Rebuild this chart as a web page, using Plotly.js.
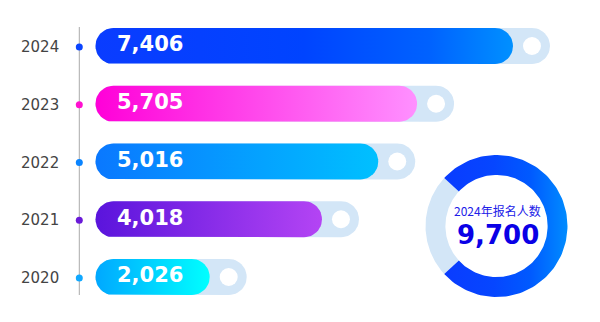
<!DOCTYPE html>
<html>
<head>
<meta charset="utf-8">
<script src="https://cdn.plot.ly/plotly-3.0.1.min.js"></script>
<style>html,body{margin:0;padding:0;background:#fff;}#chart{width:600px;height:322px;}</style>
</head>
<body>
<div id="chart"></div>
<script>
// ---- data ----
const years = ['2024', '2023', '2022', '2021', '2020'];
const values = [7406, 5705, 5016, 4018, 2026];
const gradStart = ['#0a3cff', '#ff00d8', '#0a78ff', '#5a14dc', '#00a8ff'];
const gradEnd = ['#0090ff', '#ff90ff', '#00c0ff', '#b444f4', '#00ffff'];
const dotColors = ['#0a44ff', '#ff10d0', '#0a84ff', '#6a1ad8', '#10a8ff'];
const totalLabel = '2024年报名人数';
const totalValue = 9700;
const donutPart = values[0];

// ---- layout constants (pixels) ----
const W = 600, H = 322;
const X0 = 95.5;          // pixel where value 0 sits
const K = 0.05637;        // pixels per unit
const ROW0 = 46, ROWSTEP = 57.75;
const BAR_H = 36;
const TRACK_EXTRA = 37;   // px beyond colored bar
const KNOB = 18;          // white circle diameter
const trackColor = '#d3e6f7';

const rx = (BAR_H / 2) / K;
const ry = (BAR_H / 2) / ROWSTEP;
const NS = 24;

function stadium(x0, x1, yc) {
  const xs = [], ys = [];
  for (let i = 0; i <= NS; i++) {
    const a = -Math.PI / 2 + Math.PI * i / NS;
    xs.push(x1 - rx + rx * Math.cos(a)); ys.push(yc + ry * Math.sin(a));
  }
  for (let i = 0; i <= NS; i++) {
    const a = Math.PI / 2 + Math.PI * i / NS;
    xs.push(x0 + rx + rx * Math.cos(a)); ys.push(yc + ry * Math.sin(a));
  }
  xs.push(xs[0]); ys.push(ys[0]);
  return {xs, ys};
}

function barScale(i) {
  if (i === 0) {
    return [[0, gradStart[0]], [0.5, '#0044ff'], [0.8, '#0062ff'], [1, gradEnd[0]]];
  }
  return [[0, gradStart[i]], [1, gradEnd[i]]];
}

const traces = [];
const extra = TRACK_EXTRA / K;
values.forEach((v, i) => {
  const t = stadium(0, v + extra, i);
  traces.push({type: 'scatter', mode: 'lines', x: t.xs, y: t.ys, fill: 'toself',
    fillcolor: trackColor, line: {width: 0, color: trackColor}, hoverinfo: 'skip'});
});
values.forEach((v, i) => {
  const s = stadium(0, v, i);
  traces.push({type: 'scatter', mode: 'lines', x: s.xs, y: s.ys, fill: 'toself',
    fillcolor: gradStart[i], line: {width: 0, color: gradStart[i]},
    fillgradient: {type: 'horizontal', colorscale: barScale(i)},
    hoverinfo: 'skip'});
});
// knobs
traces.push({type: 'scatter', mode: 'markers',
  x: values.map(v => v + extra - rx), y: values.map((v, i) => i),
  marker: {size: KNOB, color: '#ffffff', line: {width: 0}}, hoverinfo: 'skip'});
// value labels
traces.push({type: 'scatter', mode: 'text',
  x: values.map(() => 21.5 / K), y: values.map((v, i) => i),
  text: values.map(v => v.toLocaleString('en-US')), textposition: 'middle right',
  textfont: {family: 'DejaVu Sans', size: 21, color: '#ffffff', weight: 700},
  hoverinfo: 'skip'});
// timeline dots
const lineX = (79.3 - X0) / K;
const dy = 1 / ROWSTEP;
traces.push({type: 'scatter', mode: 'markers',
  x: years.map(() => lineX), y: years.map((y, i) => i + dy),
  marker: {size: 7, color: dotColors, line: {width: 0}}, hoverinfo: 'skip'});

// ---- donut ----
const R_IN = 0.72;
const span = (1 - donutPart / totalValue) * 360;
function sector(a0, a1) {
  const xs = [], ys = [], n = 120;
  for (let i = 0; i <= n; i++) {
    const a = (a0 + (a1 - a0) * i / n) * Math.PI / 180;
    xs.push(Math.cos(a)); ys.push(Math.sin(a));
  }
  for (let i = n; i >= 0; i--) {
    const a = (a0 + (a1 - a0) * i / n) * Math.PI / 180;
    xs.push(R_IN * Math.cos(a)); ys.push(R_IN * Math.sin(a));
  }
  xs.push(xs[0]); ys.push(ys[0]);
  return {xs, ys};
}
const rest = sector(180 - span / 2, 180 + span / 2);
traces.push({type: 'scatter', mode: 'lines', x: rest.xs, y: rest.ys, xaxis: 'x2', yaxis: 'y2',
  fill: 'toself', fillcolor: trackColor, line: {width: 0, color: trackColor}, hoverinfo: 'skip'});
const main = sector(-(180 - span / 2), 180 - span / 2);
traces.push({type: 'scatter', mode: 'lines', x: main.xs, y: main.ys, xaxis: 'x2', yaxis: 'y2',
  fill: 'toself', fillcolor: '#0a48ff', line: {width: 0, color: '#0a48ff'},
  fillgradient: {type: 'horizontal', colorscale: [[0, '#0a3cff'], [0.4, '#0646ff'], [0.7, '#005aff'], [1, '#008cff']]},
  hoverinfo: 'skip'});

const DC_X = 496.5, DC_Y = 226, DR = 71, DHALF = 76.5;
const RR = DHALF / DR;

const annotations = years.map((y, i) => ({
  x: (61 - X0) / K, y: i + dy, xref: 'x', yref: 'y', text: y, showarrow: false,
  xanchor: 'right', yanchor: 'middle',
  font: {family: 'DejaVu Sans', size: 15, color: '#444444'}
}));
annotations.push({x: 0.02, y: (DC_Y - 210) / DR, xref: 'x2', yref: 'y2', text: totalLabel,
  showarrow: false, xanchor: 'center', yanchor: 'middle',
  font: {family: 'Noto Sans CJK SC', size: 12, color: '#2020e8'}});
annotations.push({x: 0.02, y: (DC_Y - 235) / DR, xref: 'x2', yref: 'y2',
  text: '<b>' + totalValue.toLocaleString('en-US') + '</b>',
  showarrow: false, xanchor: 'center', yanchor: 'middle',
  font: {family: 'DejaVu Sans', size: 26, color: '#0a00e6'}});

const layout = {
  width: W, height: H, margin: {l: 0, r: 0, t: 0, b: 0},
  paper_bgcolor: '#ffffff', plot_bgcolor: 'rgba(0,0,0,0)',
  showlegend: false, hovermode: false,
  xaxis: {range: [-X0 / K, (W - X0) / K], visible: false, fixedrange: true},
  yaxis: {range: [(H - ROW0) / ROWSTEP, -ROW0 / ROWSTEP], visible: false, fixedrange: true},
  xaxis2: {domain: [(DC_X - DHALF) / W, (DC_X + DHALF) / W], range: [-RR, RR], visible: false, anchor: 'y2'},
  yaxis2: {domain: [(H - DC_Y - DHALF) / H, (H - DC_Y + DHALF) / H], range: [-RR, RR], visible: false, anchor: 'x2'},
  shapes: [{type: 'line', xref: 'x', yref: 'y', x0: lineX, x1: lineX,
    y0: -(ROW0 - 27) / ROWSTEP, y1: (years.length - 1) + 18 / ROWSTEP,
    line: {color: '#aaaaaa', width: 1}, layer: 'below'}],
  annotations: annotations
};

Plotly.newPlot('chart', traces, layout, {staticPlot: true, displayModeBar: false});
</script>
</body>
</html>
